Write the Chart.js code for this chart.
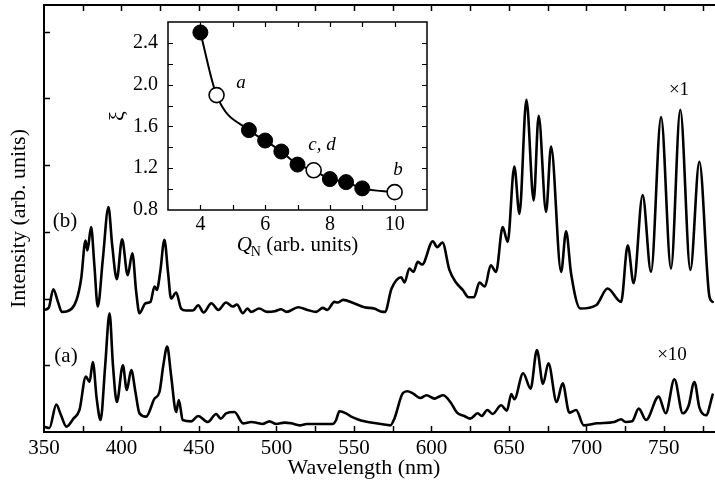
<!DOCTYPE html>
<html>
<head>
<meta charset="utf-8">
<script src="https://cdn.jsdelivr.net/npm/chart.js@4.4.1/dist/chart.umd.min.js"></script>
<style>
  html, body { margin: 0; padding: 0; background: #fff; }
  #wrap { position: relative; width: 715px; height: 484px; }
  #main { position: absolute; left: 0; top: 0; }
  #inset { position: absolute; left: 100px; top: 0; }
</style>
</head>
<body>
<div id="wrap">
  <canvas id="main" width="715" height="484"></canvas>
  <canvas id="inset" width="340" height="265"></canvas>
</div>
<script>
// spectrum (b), x1
const wlB = [350, 353, 356, 359, 361.5, 365, 371, 374, 376.8, 378, 380.4, 382.5, 384.7, 388, 391.6, 394, 397,
  400.4, 404, 407, 409.5, 411.6, 415.5, 418.7, 421.3, 422.8, 425, 427.7, 430, 432, 435.3, 438.5, 441.7, 446,
  449.5, 453, 458, 462.5, 467.5, 471.7, 474.5, 478.3, 481.3, 483.7, 488.8, 494, 499, 503, 506.5, 514, 520,
  525.6, 529.9, 532.8, 537.4, 539.5, 543, 550, 556.8, 563, 568.6, 570, 574.3, 580.5, 582.6, 585.8, 588.4,
  591.2, 594, 600.9, 603.7, 607.1, 611.6, 615.9, 620.2, 624, 627.5, 631, 634.5, 638.3, 641.7, 646, 649.2,
  653.5, 656.8, 661.3, 666, 669.2, 674, 677.2, 683.7, 686.9, 690.1, 696.1, 706.3, 713.7, 722.4, 726.7,
  730.5, 736.3, 741.7, 748.2, 754.6, 760.6, 767.1, 772.9, 779.4, 781.5];
const intB = [1.83, 1.86, 2.14, 1.95, 1.80, 1.81, 1.98, 2.3, 2.87, 2.72, 3.07, 2.5, 1.88, 2.6, 3.37, 2.8, 2.29,
  2.89, 2.35, 2.68, 2.1, 1.78, 1.93, 1.95, 2.18, 2.13, 2.4, 2.88, 2.4, 2.0, 2.09, 1.85, 1.82, 1.82,
  1.9, 1.79, 1.93, 1.83, 1.94, 1.88, 1.91, 1.78, 1.85, 1.8, 1.85, 1.8, 1.81, 1.84, 1.8, 1.87, 1.83,
  1.8, 1.86, 1.83, 1.95, 1.94, 1.98, 1.93, 1.87, 1.85, 1.8, 1.8, 2.15, 2.32, 2.24, 2.45, 2.4,
  2.55, 2.51, 2.86, 2.77, 2.84, 2.43, 2.24, 2.13, 2.02, 2.02, 2.24, 2.18, 2.5, 2.4, 3.07, 2.85,
  3.98, 3.27, 4.98, 3.47, 4.74, 3.3, 4.28, 2.4, 3.01, 2.38, 1.85, 1.9, 2.15, 1.95, 2.8,
  2.23, 3.55, 2.4, 4.72, 2.45, 4.83, 2.43, 4.05, 2.03, 1.95];

// spectrum (a), x10
const wlA = [350, 353.5, 357.9, 361, 364.5, 369, 372.9, 377, 379.4, 381.5, 384, 386.5, 389.5, 392.3, 394.5, 397,
  400.9, 403.4, 406.3, 409, 411.6, 415.9, 421.3, 424.5, 427, 429.5, 432, 435.3, 437, 439.5, 445, 449.5,
  455.7, 461.1, 464, 467.5, 472.9, 478.5, 483.7, 487, 491, 495.5, 499.8, 505.2, 509.5, 515, 519.5, 536.3,
  538.5, 540.6, 544.9, 548.2, 551.4, 556.8, 567.6, 573.5, 576.1, 581.5, 584.5, 588, 592.9, 596.8, 602,
  604.1, 607.5, 612.2, 616.5, 621.3, 625, 629.9, 632.4, 636.1, 639.5, 645, 648.7, 651.6, 653.5, 659.2,
  664, 668.1, 672, 675.5, 680.8, 684.7, 689, 693.4, 698.3, 707, 718, 722.4, 725.2, 729.5, 733.8, 738.5,
  746.6, 751.2, 756.8, 762.2, 765.9, 769.7, 772.9, 777.2, 781.5];
const intA = [0.08, 0.06, 0.41, 0.25, 0.08, 0.2, 0.33, 0.83, 0.75, 1.05, 0.5, 0.18, 1.0, 1.78, 1.0, 0.45,
  1.0, 0.63, 0.93, 0.6, 0.28, 0.23, 0.5, 0.6, 1.0, 1.28, 0.85, 0.3, 0.48, 0.18, 0.16, 0.24,
  0.15, 0.27, 0.2, 0.28, 0.3, 0.13, 0.15, 0.14, 0.12, 0.16, 0.12, 0.14, 0.13, 0.1, 0.12, 0.12,
  0.18, 0.31, 0.28, 0.23, 0.2, 0.16, 0.12, 0.1, 0.2, 0.58, 0.61, 0.58, 0.51, 0.55, 0.5,
  0.52, 0.55, 0.45, 0.29, 0.24, 0.2, 0.28, 0.24, 0.33, 0.27, 0.4, 0.32, 0.57, 0.49, 0.88,
  0.65, 1.23, 0.72, 1.03, 0.45, 0.73, 0.29, 0.33, 0.1, 0.13, 0.15, 0.19, 0.15, 0.16, 0.35, 0.18,
  0.53, 0.28, 0.79, 0.28, 0.39, 0.75, 0.37, 0.25, 0.56];

const wlTicks = [350, 400, 450, 500, 550, 600, 650, 700, 750];
const wlMinor = [375, 400, 425, 450, 475, 500, 525, 550, 575, 600, 625, 650, 675, 700, 725, 750, 775];
const intMinor = [1, 2, 3, 4, 5, 6];

// inset: xi vs Q_N
const qN = [4, 4.5, 5.5, 6, 6.5, 7, 7.5, 8, 8.5, 9, 10];
const xi = [2.5, 1.9, 1.565, 1.465, 1.36, 1.235, 1.18, 1.096, 1.067, 1.007, 0.971];
const qOpen = [4.5, 7.5, 10];
const qTicks = [4, 6, 8, 10];
const qMinor = [4, 5, 6, 7, 8, 9, 10];
const xiTicks = [0.8, 1.2, 1.6, 2.0, 2.4];
const xiMinor = [1.0, 1.2, 1.4, 1.6, 1.8, 2.0, 2.2, 2.4];

const serif = '"Liberation Serif", "Times New Roman", serif';

// inward tick marks on the chart frame
function drawInTicks(ctx, chart, xs, ys, len, lw, right) {
  const a = chart.chartArea, sx = chart.scales.x, sy = chart.scales.y;
  ctx.save();
  ctx.strokeStyle = '#000';
  ctx.lineWidth = lw;
  ctx.beginPath();
  xs.forEach(v => {
    const p = Math.round(sx.getPixelForValue(v)) + 0.5;
    ctx.moveTo(p, a.bottom); ctx.lineTo(p, a.bottom - len);
    ctx.moveTo(p, a.top); ctx.lineTo(p, a.top + len);
  });
  ys.forEach(v => {
    const p = Math.round(sy.getPixelForValue(v)) + 0.5;
    ctx.moveTo(a.left, p); ctx.lineTo(a.left + len, p);
    if (right) { ctx.moveTo(a.right, p); ctx.lineTo(a.right - len, p); }
  });
  ctx.stroke();
  ctx.restore();
}

const mainDeco = {
  id: 'mainDeco',
  afterDraw(chart) {
    const ctx = chart.ctx, a = chart.chartArea;
    ctx.save();
    ctx.strokeStyle = '#000';
    ctx.lineWidth = 2;
    ctx.beginPath();
    ctx.moveTo(a.left - 1, a.top); ctx.lineTo(a.right, a.top);
    ctx.stroke();
    ctx.restore();
    drawInTicks(ctx, chart, wlMinor, intMinor, 6, 1.5, false);

    ctx.save();
    ctx.fillStyle = '#000';
    ctx.textAlign = 'center';
    ctx.textBaseline = 'middle';
    ctx.font = '22px ' + serif;
    ctx.fillText('Wavelength (nm)', 364, 468);
    ctx.font = '21px ' + serif;
    ctx.fillText('(b)', 65, 221);
    ctx.fillText('(a)', 66, 356);
    ctx.font = '19px ' + serif;
    ctx.fillText('\u00d71', 679, 90);
    ctx.fillText('\u00d710', 672, 355);
    ctx.restore();
  }
};

const traceStyle = { borderColor: '#000', borderWidth: 2.6, pointRadius: 0, cubicInterpolationMode: 'monotone', borderJoinStyle: 'round', borderCapStyle: 'round' };

new Chart(document.getElementById('main'), {
  type: 'line',
  data: {
    datasets: [
      Object.assign({ data: wlB.map((x, i) => ({ x: x, y: intB[i] })) }, traceStyle),
      Object.assign({ data: wlA.map((x, i) => ({ x: x, y: intA[i] })) }, traceStyle)
    ]
  },
  options: {
    responsive: false,
    animation: false,
    events: [],
    layout: { padding: { top: 5, right: 0, bottom: 0, left: 0 } },
    plugins: { legend: { display: false }, tooltip: { enabled: false } },
    scales: {
      x: {
        type: 'linear', min: 350, max: 783,
        afterBuildTicks: s => { s.ticks = wlTicks.map(v => ({ value: v })); },
        afterFit: s => { s.height = 52; },
        grid: { display: false, drawTicks: false },
        border: { display: true, color: '#000', width: 2 },
        ticks: { color: '#000', padding: 4, maxRotation: 0, autoSkip: false, font: { family: serif, size: 21 } }
      },
      y: {
        type: 'linear', min: 0, max: 6.4,
        afterFit: s => { s.width = 44; },
        grid: { display: false, drawTicks: false },
        border: { display: true, color: '#000', width: 2 },
        ticks: { display: false },
        title: { display: true, text: 'Intensity (arb. units)', color: '#000', padding: { top: 6, bottom: 0 }, font: { family: serif, size: 22 } }
      }
    }
  },
  plugins: [mainDeco]
});

const insetDeco = {
  id: 'insetDeco',
  beforeDatasetsDraw(chart) {
    const ctx = chart.ctx, a = chart.chartArea;
    ctx.save();
    ctx.fillStyle = '#fff';
    ctx.fillRect(a.left, a.top, a.right - a.left, a.bottom - a.top);
    ctx.restore();
  },
  afterDraw(chart) {
    const ctx = chart.ctx, a = chart.chartArea;
    ctx.save();
    ctx.strokeStyle = '#000';
    ctx.lineWidth = 1.5;
    ctx.strokeRect(a.left, a.top, a.right - a.left, a.bottom - a.top);
    ctx.restore();
    drawInTicks(ctx, chart, qMinor, xiMinor, 5, 1.2, true);

    ctx.save();
    ctx.fillStyle = '#000';
    ctx.textBaseline = 'middle';
    ctx.textAlign = 'center';
    ctx.font = 'italic 19px ' + serif;
    ctx.fillText('a', 141, 83);
    ctx.fillText('c, d', 222, 145);
    ctx.fillText('b', 298, 170);

    // x title: Q with subscript N
    const big = '21px ' + serif, small = '14px ' + serif;
    ctx.textAlign = 'left';
    ctx.textBaseline = 'alphabetic';
    ctx.font = 'italic ' + big;
    const wQ = ctx.measureText('Q').width;
    ctx.font = small;
    const wN = ctx.measureText('N').width;
    ctx.font = big;
    const wR = ctx.measureText(' (arb. units)').width;
    const x0 = 198 - (wQ + wN + wR) / 2;
    const base = 251;
    ctx.font = 'italic ' + big;
    ctx.fillText('Q', x0, base);
    ctx.font = small;
    ctx.fillText('N', x0 + wQ - 1, base + 5);
    ctx.font = big;
    ctx.fillText(' (arb. units)', x0 + wQ + wN - 1, base);
    ctx.restore();
  }
};

new Chart(document.getElementById('inset'), {
  type: 'scatter',
  data: {
    datasets: [
      { data: qN.map((x, i) => ({ x: x, y: xi[i] })), showLine: true, cubicInterpolationMode: 'monotone', borderColor: '#000', borderWidth: 2, pointRadius: 0, order: 3 },
      { data: qN.map((x, i) => ({ x: x, y: xi[i] })).filter(p => !qOpen.includes(p.x)), pointRadius: 7.5, pointBackgroundColor: '#000', pointBorderColor: '#000', pointBorderWidth: 1, order: 2 },
      { data: qN.map((x, i) => ({ x: x, y: xi[i] })).filter(p => qOpen.includes(p.x)), pointRadius: 7.5, pointBackgroundColor: '#fff', pointBorderColor: '#000', pointBorderWidth: 1.6, order: 1 }
    ]
  },
  options: {
    responsive: false,
    animation: false,
    events: [],
    layout: { padding: { top: 8, right: 13, bottom: 0, left: 0 } },
    plugins: { legend: { display: false }, tooltip: { enabled: false } },
    scales: {
      x: {
        type: 'linear', min: 3, max: 11,
        afterBuildTicks: s => { s.ticks = qTicks.map(v => ({ value: v })); },
        afterFit: s => { s.height = 55; },
        grid: { display: false, drawTicks: false },
        border: { display: false },
        ticks: { color: '#000', padding: 3, maxRotation: 0, autoSkip: false, font: { family: serif, size: 20 } }
      },
      y: {
        type: 'linear', min: 0.8, max: 2.6,
        afterBuildTicks: s => { s.ticks = xiTicks.map(v => ({ value: v })); },
        afterFit: s => { s.width = 68; },
        grid: { display: false, drawTicks: false },
        border: { display: false },
        ticks: { color: '#000', padding: 10, autoSkip: false, font: { family: serif, size: 20 }, callback: v => v.toFixed(1) },
        title: { display: true, text: '\u03be', color: '#000', padding: { top: 5, bottom: 0 }, font: { family: serif, size: 22 } }
      }
    }
  },
  plugins: [insetDeco]
});
</script>
</body>
</html>
